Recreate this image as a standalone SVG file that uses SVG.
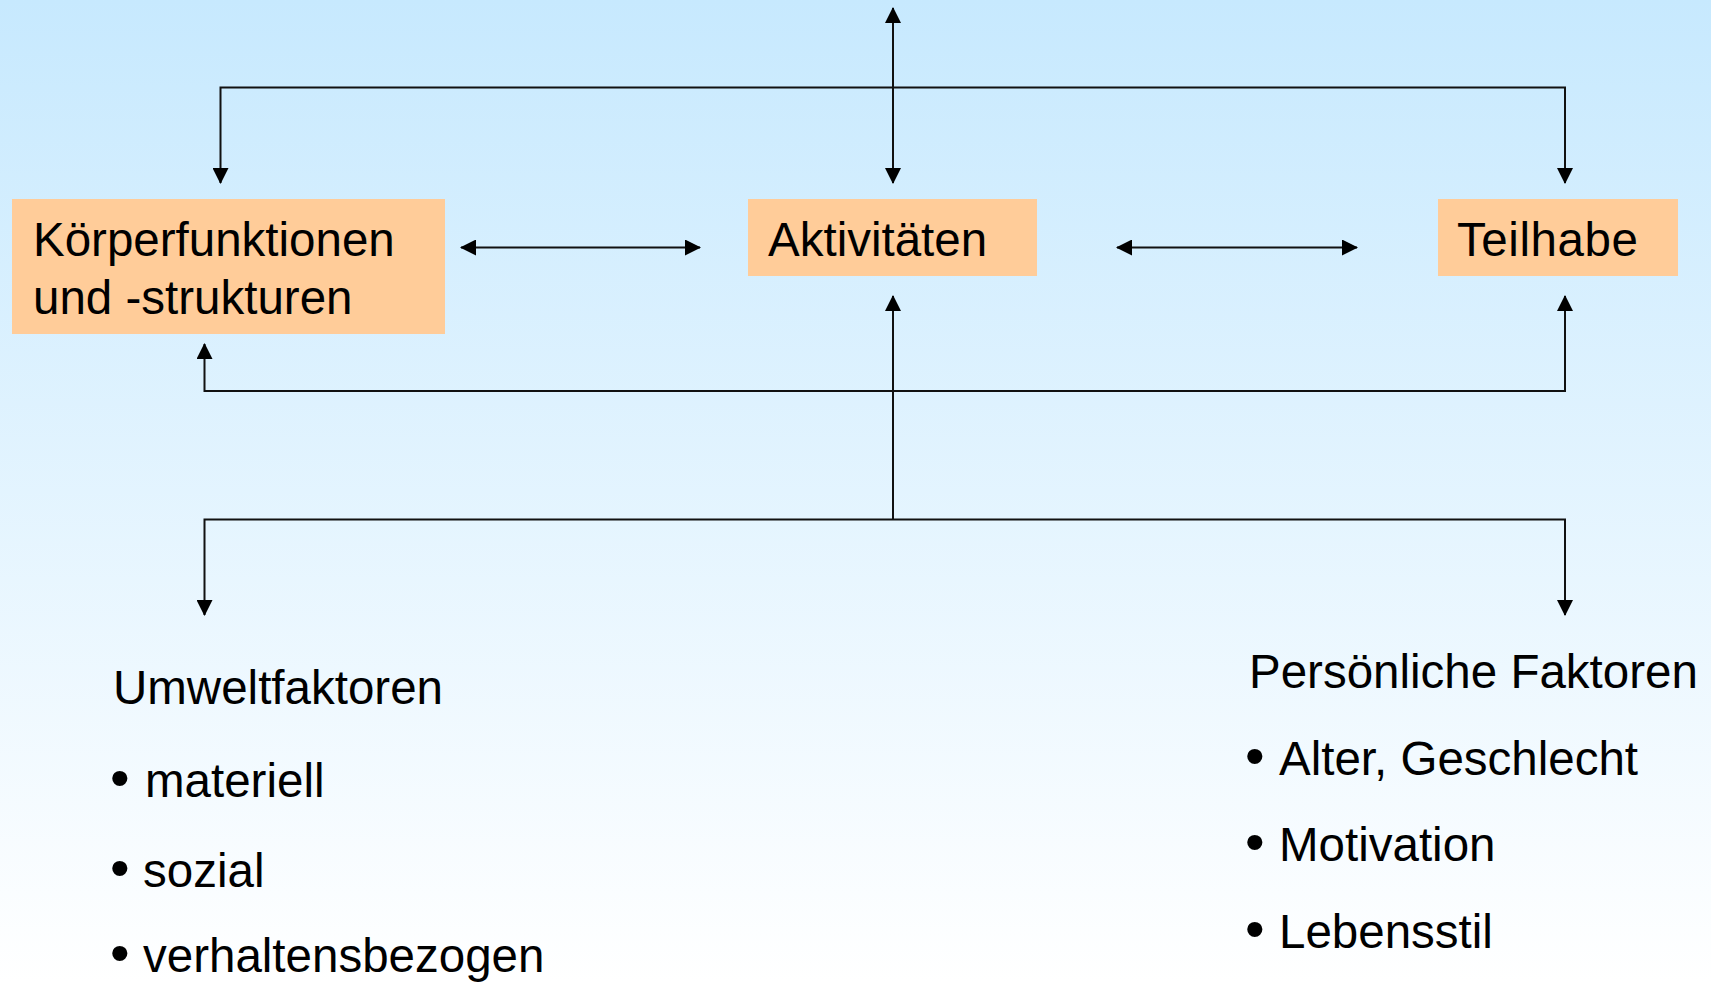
<svg xmlns="http://www.w3.org/2000/svg" width="1711" height="982" viewBox="0 0 1711 982">
<defs>
<linearGradient id="bg" x1="0" y1="0" x2="0" y2="1">
<stop offset="0" stop-color="#c7e9fe"/>
<stop offset="1" stop-color="#ffffff"/>
</linearGradient>
<marker id="ah" markerUnits="userSpaceOnUse" markerWidth="16" markerHeight="16" viewBox="0 0 16 16" refX="15" refY="8" orient="auto-start-reverse">
<path d="M0,0 L16,8 L0,16 Z" fill="#000"/>
</marker>
<style>
.box{fill:#ffcc99}
.t{font-family:"Liberation Sans",Arial,sans-serif;font-size:47.5px;fill:#000}
.b{font-size:56px}
.c{fill:none;stroke:#111;stroke-width:2}
.a2{marker-start:url(#ah);marker-end:url(#ah)}
.a1{marker-end:url(#ah)}
</style>
</defs>
<rect x="0" y="0" width="1711" height="982" fill="url(#bg)"/>
<g id="connectors">
<path class="c a2" d="M893,183 L893,8"/>
<path class="c a2" d="M220.5,183 L220.5,87.5 L1565,87.5 L1565,183"/>
<path class="c a2" d="M461,247.5 L700,247.5"/>
<path class="c a2" d="M1117,247.5 L1357,247.5"/>
<path class="c a2" d="M204.5,344 L204.5,391 L1565,391 L1565,296"/>
<path class="c a1" d="M893,519 L893,296"/>
<path class="c a2" d="M204.5,615 L204.5,519.5 L1565,519.5 L1565,615"/>
</g>
<g id="koerperfunktionen">
<rect class="box" x="12" y="199" width="433" height="135"/>
<text class="t" x="33" y="256">Körperfunktionen</text>
<text class="t" x="33" y="314">und -strukturen</text>
</g>
<g id="aktivitaeten">
<rect class="box" x="748" y="199" width="289" height="77"/>
<text class="t" x="768" y="256">Aktivitäten</text>
</g>
<g id="teilhabe">
<rect class="box" x="1438" y="199" width="240" height="77"/>
<text class="t" x="1457" y="256" textLength="181">Teilhabe</text>
</g>
<g id="umweltfaktoren">
<text class="t" x="113" y="704">Umweltfaktoren</text>
<text class="t" x="110" y="797"><tspan class="b">•</tspan><tspan x="145">materiell</tspan></text>
<text class="t" x="110" y="887"><tspan class="b">•</tspan><tspan x="143">sozial</tspan></text>
<text class="t" x="110" y="972"><tspan class="b">•</tspan><tspan x="143">verhaltensbezogen</tspan></text>
</g>
<g id="persoenliche-faktoren">
<text class="t" x="1249" y="688">Persönliche Faktoren</text>
<text class="t" x="1245" y="775"><tspan class="b">•</tspan><tspan x="1279">Alter, Geschlecht</tspan></text>
<text class="t" x="1245" y="861"><tspan class="b">•</tspan><tspan x="1279">Motivation</tspan></text>
<text class="t" x="1245" y="948"><tspan class="b">•</tspan><tspan x="1279">Lebensstil</tspan></text>
</g>
</svg>
